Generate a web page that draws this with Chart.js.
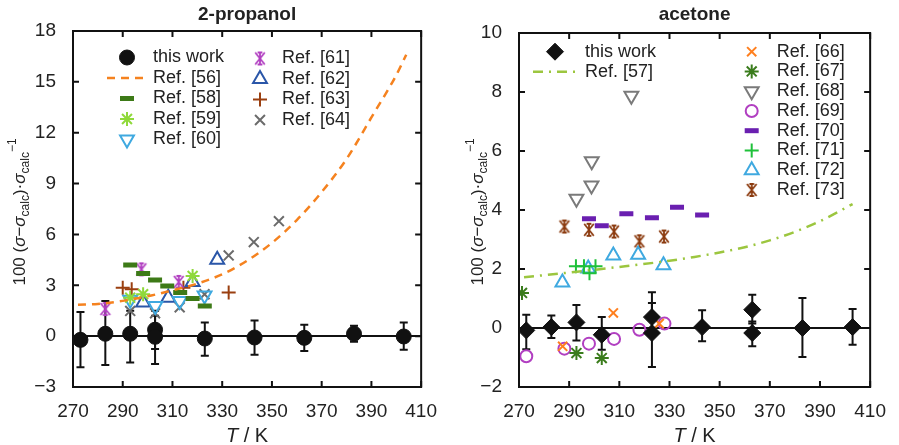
<!DOCTYPE html>
<html>
<head>
<meta charset="utf-8">
<script src="https://cdn.jsdelivr.net/npm/chart.js@4/dist/chart.umd.min.js"></script>
<style>
  html, body { margin: 0; padding: 0; background: #fff; }
  #wrap { position: relative; width: 899px; height: 445px; }
  #left { position: absolute; left: 0; top: 0; }
  #right { position: absolute; left: 450px; top: 0; }
</style>
</head>
<body>
<div id="wrap">
  <canvas id="left" width="450" height="445"></canvas>
  <canvas id="right" width="449" height="445"></canvas>
</div>
<script>
// ---- 2-propanol (left) ----
const propT = [273, 283, 293, 303, 303, 323, 343, 363, 383, 403];
const propDev = [-0.22, 0.14, 0.14, 0.38, -0.04, -0.14, -0.08, -0.1, 0.14, -0.02];
const propLow = [-1.84, -1.7, -1.55, -0.76, -1.65, -1.16, -1.1, -0.88, -0.33, -0.8];
const propHigh = [1.43, 2.08, 1.5, 1.5, 1.2, 0.8, 0.92, 0.67, 0.62, 0.8];

const ref56T = [272, 280, 290, 300, 310, 320, 330, 340, 350, 360, 370, 380, 390, 400, 404];
const ref56 = [1.85, 1.9, 2.08, 2.35, 2.7, 3.1, 3.65, 4.45, 5.5, 6.85, 8.5, 10.45, 12.9, 15.4, 16.6];
const ref58T = [293, 298.2, 303, 307.9, 313.1, 318.1, 323];
const ref58 = [4.19, 3.69, 3.31, 2.96, 2.57, 2.22, 1.78];
const ref59T = [293, 298.2, 318.1];
const ref59 = [2.27, 2.47, 3.55];
const ref60T = [293, 303.1, 312.9, 322.9];
const ref60 = [2.15, 1.78, 2.08, 2.4];
const ref61T = [283, 297.5, 312.5];
const ref61 = [1.6, 3.94, 3.2];
const ref62T = [298.2, 308.3, 318.1, 328];
const ref62 = [1.98, 2.27, 3.2, 4.5];
const ref63T = [290, 293.6, 314.4, 332.6];
const ref63 = [2.86, 2.76, 2.86, 2.57];
const ref64T = [293, 303, 312.9, 322.9, 332.6, 342.7, 352.8];
const ref64 = [1.49, 1.35, 1.7, 2.47, 4.76, 5.55, 6.78];

// ---- acetone (right) ----
const acetT = [272.9, 282.9, 292.9, 303, 323, 323, 343, 363, 363, 383, 403];
const acetDev = [-0.08, 0.03, 0.19, -0.23, 0.37, -0.17, 0.03, 0.62, -0.17, 0.0, 0.03];
const acetLow = [-0.72, -0.34, -0.42, -0.74, -0.11, -1.32, -0.45, 0.15, -0.62, -0.98, -0.57];
const acetHigh = [0.45, 0.42, 0.78, 0.37, 0.85, 1.21, 0.6, 1.13, 0.22, 1.02, 0.64];

const ref57T = [272, 290, 310, 330, 340, 350, 360, 370, 380, 390, 403];
const ref57 = [1.72, 1.88, 2.07, 2.28, 2.41, 2.56, 2.74, 2.97, 3.26, 3.62, 4.2];
const ref66T = [287.4, 307.6, 325.9];
const ref66 = [-0.62, 0.51, 0.15];
const ref67T = [271.2, 292.9, 303];
const ref67 = [1.19, -0.85, -1.02];
const ref68T = [292.9, 298.9, 299, 314.8];
const ref68 = [4.38, 4.83, 5.65, 7.87];
const ref69T = [272.9, 288.1, 297.9, 307.9, 318, 328];
const ref69 = [-0.96, -0.7, -0.53, -0.37, -0.06, 0.15];
const ref70T = [297.9, 303, 312.8, 323, 333, 343];
const ref70 = [3.7, 3.47, 3.87, 3.74, 4.09, 3.83];
const ref71T = [292.7, 295.9, 298.1, 300.5];
const ref71 = [2.09, 2.09, 1.86, 2.09];
const ref72T = [287.3, 297.6, 307.6, 317.5, 327.6];
const ref72 = [1.54, 2.02, 2.46, 2.48, 2.13];
const ref73T = [288.1, 297.9, 307.9, 318, 327.8];
const ref73 = [3.44, 3.33, 3.27, 2.94, 3.1];

const xTicks = [270, 290, 310, 330, 350, 370, 390, 410];

const FONT = '"Liberation Sans", Arial, Helvetica, sans-serif';
const TXT = '#222';

function pts(xs, ys) {
  return xs.map((x, i) => ({x: x, y: ys[i]}));
}

// x with a vertical stroke and short caps, like the plot's point type
function asterisk(color, r) {
  const c = document.createElement('canvas');
  const s = 2 * r + 4;
  c.width = s; c.height = s;
  const g = c.getContext('2d');
  g.strokeStyle = color; g.lineWidth = 1.8;
  const m = s / 2, d = r * 0.8;
  g.beginPath();
  g.moveTo(m - d, m - r); g.lineTo(m + d, m + r);
  g.moveTo(m + d, m - r); g.lineTo(m - d, m + r);
  g.moveTo(m, m - r); g.lineTo(m, m + r);
  g.moveTo(m - d * 0.5, m - r); g.lineTo(m + d * 0.5, m - r);
  g.moveTo(m - d * 0.5, m + r); g.lineTo(m + d * 0.5, m + r);
  g.stroke();
  return c;
}

function marks(label, xs, ys, style, color, opt) {
  opt = opt || {};
  return {
    label: label,
    data: pts(xs, ys),
    showLine: false,
    pointStyle: style,
    pointRadius: opt.r || 7,
    pointHoverRadius: opt.r || 7,
    pointRotation: opt.rot || 0,
    pointBorderColor: color,
    pointBackgroundColor: opt.fill ? color : 'rgba(0,0,0,0)',
    pointBorderWidth: opt.lw || 2,
    borderColor: color,
    backgroundColor: opt.fill ? color : 'rgba(0,0,0,0)'
  };
}

function curve(label, xs, ys, color, dash) {
  return {
    label: label,
    data: pts(xs, ys),
    showLine: true,
    pointRadius: 0,
    pointHoverRadius: 0,
    borderColor: color,
    borderWidth: 2.5,
    borderDash: dash,
    cubicInterpolationMode: 'monotone',
    fill: false
  };
}

function minusFmt(v) {
  return v < 0 ? '\u2212' + Math.abs(v) : String(v);
}

function drawRuns(ctx, runs, cx, cy, rotate) {
  ctx.save();
  ctx.translate(cx, cy);
  if (rotate) ctx.rotate(-Math.PI / 2);
  let w = 0;
  runs.forEach(r => { ctx.font = r.font; r.w = ctx.measureText(r.t).width; w += r.w; });
  let x = -w / 2;
  ctx.fillStyle = TXT;
  ctx.textAlign = 'left';
  ctx.textBaseline = 'alphabetic';
  runs.forEach(r => { ctx.font = r.font; ctx.fillText(r.t, x, r.dy); x += r.w; });
  ctx.restore();
}

const errorBars = {
  id: 'errorBars',
  beforeDatasetsDraw(chart, args, o) {
    const ctx = chart.ctx, xs = chart.scales.x, ys = chart.scales.y;
    ctx.save();
    ctx.strokeStyle = '#111';
    ctx.lineWidth = 2;
    o.xs.forEach((t, i) => {
      const px = xs.getPixelForValue(t);
      const y1 = ys.getPixelForValue(o.low[i]);
      const y2 = ys.getPixelForValue(o.high[i]);
      ctx.beginPath();
      ctx.moveTo(px, y1); ctx.lineTo(px, y2);
      ctx.moveTo(px - 4, y1); ctx.lineTo(px + 4, y1);
      ctx.moveTo(px - 4, y2); ctx.lineTo(px + 4, y2);
      ctx.stroke();
    });
    ctx.restore();
  }
};

const frame = {
  id: 'frame',
  afterDraw(chart, args, o) {
    const ctx = chart.ctx, a = chart.chartArea;
    const xs = chart.scales.x, ys = chart.scales.y;
    ctx.save();
    ctx.strokeStyle = '#111';
    ctx.lineWidth = 2;
    ctx.strokeRect(a.left, a.top, a.right - a.left, a.bottom - a.top);
    ctx.beginPath();
    xs.ticks.forEach(t => {
      const px = xs.getPixelForValue(t.value);
      ctx.moveTo(px, a.bottom); ctx.lineTo(px, a.bottom - 6);
      ctx.moveTo(px, a.top); ctx.lineTo(px, a.top + 6);
    });
    ys.ticks.forEach(t => {
      const py = ys.getPixelForValue(t.value);
      ctx.moveTo(a.left, py); ctx.lineTo(a.left + 6, py);
      ctx.moveTo(a.right, py); ctx.lineTo(a.right - 6, py);
    });
    ctx.stroke();

    // title
    const cx = (a.left + a.right) / 2;
    ctx.fillStyle = TXT;
    ctx.font = 'bold 19px ' + FONT;
    ctx.textAlign = 'center';
    ctx.textBaseline = 'middle';
    ctx.fillText(o.title, cx, o.titleY);

    // axis titles
    drawRuns(ctx, [
      {t: 'T', font: 'italic 20px ' + FONT, dy: 7},
      {t: ' / K', font: '20px ' + FONT, dy: 7}
    ], cx, 435, false);
    const main = '17px ' + FONT, it = 'italic 17px ' + FONT, sm = '12px ' + FONT;
    drawRuns(ctx, [
      {t: '100 (', font: main, dy: 6},
      {t: '\u03c3', font: it, dy: 6},
      {t: '\u2212', font: main, dy: 6},
      {t: '\u03c3', font: it, dy: 6},
      {t: 'calc', font: sm, dy: 10},
      {t: ')\u00b7', font: main, dy: 6},
      {t: '\u03c3', font: it, dy: 6},
      {t: 'calc', font: sm, dy: 10},
      {t: '\u2212', font: sm, dy: -3},
      {t: '1', font: sm, dy: -3}
    ], o.yTitleX, 212, true);
    ctx.restore();

    // legend
    o.legend.forEach(l => {
      const ds = chart.data.datasets[l.ds];
      ctx.save();
      if (ds.showLine) {
        ctx.strokeStyle = ds.borderColor;
        ctx.lineWidth = ds.borderWidth;
        ctx.setLineDash(ds.borderDash || []);
        ctx.beginPath();
        ctx.moveTo(l.x1, l.y); ctx.lineTo(l.x2, l.y);
        ctx.stroke();
      } else {
        ctx.strokeStyle = ds.pointBorderColor;
        ctx.fillStyle = ds.pointBackgroundColor;
        ctx.lineWidth = ds.pointBorderWidth;
        Chart.helpers.drawPoint(ctx, {
          pointStyle: ds.pointStyle,
          rotation: ds.pointRotation,
          radius: ds.pointRadius,
          borderWidth: ds.pointBorderWidth
        }, l.mx, l.y);
      }
      ctx.restore();
      ctx.save();
      ctx.fillStyle = TXT;
      ctx.font = '18px ' + FONT;
      ctx.textAlign = 'left';
      ctx.textBaseline = 'middle';
      ctx.fillText(ds.label, l.tx, l.y);
      ctx.restore();
    });
  }
};

function baseOptions(yMin, yMax, yStep, yWidth, padTop, padRight, extra) {
  return {
    responsive: false,
    animation: false,
    events: [],
    layout: {padding: {left: 0, right: padRight, top: padTop, bottom: 0}},
    scales: {
      x: {
        type: 'linear', min: 270, max: 410,
        afterBuildTicks: s => { s.ticks = xTicks.map(v => ({value: v})); },
        afterFit: s => { s.height = 58; },
        grid: {display: false, drawTicks: false},
        border: {display: false},
        ticks: {color: TXT, font: {family: FONT, size: 19}, padding: 13, maxRotation: 0}
      },
      y: {
        min: yMin, max: yMax,
        afterFit: s => { s.width = yWidth; },
        grid: {
          drawTicks: false,
          lineWidth: 2,
          color: c => (c.tick && c.tick.value === 0) ? '#111' : 'rgba(0,0,0,0)'
        },
        border: {display: false},
        ticks: {stepSize: yStep, color: TXT, font: {family: FONT, size: 19}, padding: 17, callback: minusFmt}
      }
    },
    plugins: Object.assign({legend: {display: false}, tooltip: {enabled: false}}, extra)
  };
}

const black = '#111';

new Chart(document.getElementById('left'), {
  type: 'scatter',
  data: {
    datasets: [
      marks('this work', propT, propDev, 'circle', black, {r: 7.5, fill: true, lw: 1}),
      curve('Ref. [56]', ref56T, ref56, '#f5821f', [8, 6]),
      marks('Ref. [58]', ref58T, ref58, 'line', '#3d7a17', {r: 7, lw: 5}),
      marks('Ref. [59]', ref59T, ref59, 'star', '#8fd93a', {r: 7}),
      marks('Ref. [60]', ref60T, ref60, 'triangle', '#3fa9e0', {r: 8, rot: 180}),
      marks('Ref. [61]', ref61T, ref61, asterisk('#b13fc1', 6), '#b13fc1', {r: 6}),
      marks('Ref. [62]', ref62T, ref62, 'triangle', '#2a56a8', {r: 8}),
      marks('Ref. [63]', ref63T, ref63, 'cross', '#9a3f10', {r: 7}),
      marks('Ref. [64]', ref64T, ref64, 'crossRot', '#6b6b6b', {r: 7})
    ]
  },
  options: baseOptions(-3, 18, 3, 73, 31, 19, {
    errorBars: {xs: propT, low: propLow, high: propHigh},
    frame: {
      title: '2-propanol', titleY: 15, yTitleX: 19,
      legend: [
        {ds: 0, mx: 127, tx: 153, y: 57.5},
        {ds: 1, x1: 107, x2: 147, tx: 153, y: 78},
        {ds: 2, mx: 127, tx: 153, y: 98.5},
        {ds: 3, mx: 127, tx: 153, y: 119},
        {ds: 4, mx: 127, tx: 153, y: 139.5},
        {ds: 5, mx: 260, tx: 282, y: 58.5},
        {ds: 6, mx: 260, tx: 282, y: 79},
        {ds: 7, mx: 260, tx: 282, y: 99.5},
        {ds: 8, mx: 260, tx: 282, y: 120}
      ]
    }
  }),
  plugins: [errorBars, frame]
});

const rCol = 301.7, rTx = 326.7, rRow = 19.75;
new Chart(document.getElementById('right'), {
  type: 'scatter',
  data: {
    datasets: [
      marks('this work', acetT, acetDev, 'rectRot', black, {r: 8.5, fill: true, lw: 1}),
      curve('Ref. [57]', ref57T, ref57, '#9cc63f', [10, 6, 2, 6]),
      marks('Ref. [66]', ref66T, ref66, 'crossRot', '#ff7f1e', {r: 6.5}),
      marks('Ref. [67]', ref67T, ref67, 'star', '#3a7c1c', {r: 7}),
      marks('Ref. [68]', ref68T, ref68, 'triangle', '#7a7a7a', {r: 8, rot: 180}),
      marks('Ref. [69]', ref69T, ref69, 'circle', '#b13fc1', {r: 6}),
      marks('Ref. [70]', ref70T, ref70, 'line', '#6a1fb0', {r: 7, lw: 5}),
      marks('Ref. [71]', ref71T, ref71, 'cross', '#1fc13a', {r: 7}),
      marks('Ref. [72]', ref72T, ref72, 'triangle', '#3fa9e0', {r: 8}),
      marks('Ref. [73]', ref73T, ref73, asterisk('#8b3a0e', 6), '#8b3a0e', {r: 6})
    ]
  },
  options: baseOptions(-2, 10, 2, 69, 33, 22, {
    errorBars: {xs: acetT, low: acetLow, high: acetHigh},
    frame: {
      title: 'acetone', titleY: 15, yTitleX: 27,
      legend: [
        {ds: 0, mx: 105, tx: 135, y: 51.7},
        {ds: 1, x1: 83, x2: 125, tx: 135, y: 71.7},
        {ds: 2, mx: rCol, tx: rTx, y: 51.7},
        {ds: 3, mx: rCol, tx: rTx, y: 51.7 + rRow},
        {ds: 4, mx: rCol, tx: rTx, y: 51.7 + 2 * rRow},
        {ds: 5, mx: rCol, tx: rTx, y: 51.7 + 3 * rRow},
        {ds: 6, mx: rCol, tx: rTx, y: 51.7 + 4 * rRow},
        {ds: 7, mx: rCol, tx: rTx, y: 51.7 + 5 * rRow},
        {ds: 8, mx: rCol, tx: rTx, y: 51.7 + 6 * rRow},
        {ds: 9, mx: rCol, tx: rTx, y: 51.7 + 7 * rRow}
      ]
    }
  }),
  plugins: [errorBars, frame]
});
</script>
</body>
</html>
